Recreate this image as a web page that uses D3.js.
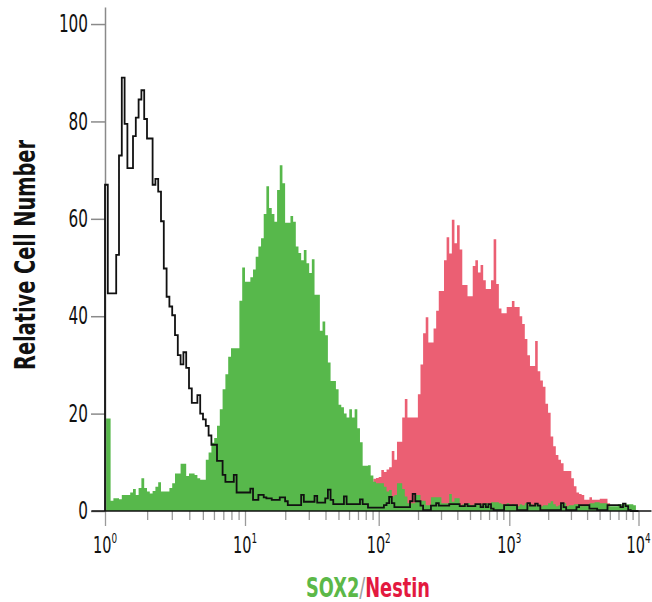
<!DOCTYPE html>
<html>
<head>
<meta charset="utf-8">
<script src="https://cdn.jsdelivr.net/npm/d3@7"></script>
<style>
  body { margin: 0; background: #fff; }
  svg { display: block; }
</style>
</head>
<body>
<svg id="chart" width="652" height="602"></svg>
<script>
'use strict';

// histogram channels: 200 bins, 0.02 decade each, from 10^0 to 10^4
const binStep = 0.02;

// isotype control (black outline)
const control = [
  67, 44.7, 44.7, 44.7, 52.6, 73, 89, 79.5, 70.4, 70.4,
  77, 80.8, 84.5, 86.4, 80.5, 76.5, 76.5, 67, 68.2, 65.6,
  59.5, 49.8, 44, 42, 40.2, 36.1, 32, 30.1, 32.6, 29.4,
  25.2, 22.2, 22.2, 23.8, 20, 18.8, 17.5, 15.5, 13.6, 13.6,
  10.3, 10.3, 7.4, 6, 6, 6, 7.4, 3.8, 3.8, 3.8,
  3.8, 3.8, 4.6, 2.3, 2.3, 3.3, 3.3, 2.8, 2.6, 2.6,
  2.3, 2.3, 2.3, 2.8, 2.8, 2.0, 1.2, 1.2, 1.2, 1.2,
  1.2, 3.3, 1.9, 1.9, 1.9, 1.9, 3.1, 1.7, 1.7, 1.7,
  2.6, 4.4, 2.3, 1.4, 1.4, 1.4, 1.4, 3.0, 1.4, 1.4,
  1.4, 1.4, 1.4, 2.4, 1.4, 1.4, 0.7, 0.7, 0.7, 0.7,
  0.7, 0.7, 1.2, 1.6, 2.9, 1.6, 0.8, 0.8, 0.8, 0.8,
  0.8, 0.8, 2.0, 3.5, 2.0, 2.0, 1.1, 0.2, 0.2, 0.2,
  1.1, 1.1, 1.6, 1.1, 1.1, 1.1, 1.1, 1.4, 1.4, 1.4,
  1.4, 1.0, 1.0, 1.4, 1.0, 1.0, 1.0, 1.4, 1.4, 0.8,
  1.4, 0.8, 1.4, 0.5, 0.2, 0.2, 0.2, 0.2, 1.2, 1.2,
  1.2, 1.2, 1.2, 0.2, 0.2, 0.2, 0.2, 1.6, 1.1, 1.1,
  1.5, 1.1, 0.2, 0.2, 0.2, 0.2, 0.2, 0.2, 0.2, 0.2,
  1.6, 0.8, 0.2, 0.2, 0.2, 0.2, 0.8, 1.2, 1.2, 1.2,
  1.2, 0.5, 0.5, 0.5, 0.2, 0.2, 0.2, 0.2, 1.2, 1.2,
  1.2, 1.2, 1.2, 0.8, 1.5, 1.0, 0.2, 0, 0, 0
];

// SOX2 (green fill)
const sox2 = [
  19, 19, 2.1, 2.6, 2.6, 2.4, 3.3, 3.3, 3.3, 3.8,
  4.5, 3.3, 4.7, 6.7, 4.7, 4.0, 3.6, 4.1, 5.0, 5.9,
  4.0, 4.0, 4.0, 4.7, 5.7, 7.7, 7.7, 9.7, 9.7, 7.2,
  7.7, 7.7, 7.4, 6.7, 6.4, 6.4, 10.5, 12, 14, 15,
  17.5, 20.9, 25, 28.1, 31.7, 33.4, 33.4, 33.4, 43.2, 50,
  47.1, 47.1, 48, 49.6, 52.2, 54.3, 56, 61, 66.7, 62.2,
  61, 59.4, 65.9, 71, 67.3, 59.2, 59.2, 60.6, 59.4, 54.3,
  53, 51.5, 53.6, 50.9, 48.9, 51.7, 44.4, 44.4, 37, 38.9,
  36.1, 30.5, 26.7, 26.7, 25, 21.8, 21.3, 20, 19.2, 20.9,
  19.2, 20.9, 17, 14.1, 9.3, 9.3, 9.4, 7.3, 6, 5.7,
  5.7, 5.7, 5, 4, 4.3, 3, 3.3, 5.7, 5.7, 4.5,
  3, 1.6, 1.6, 1.6, 3.3, 3.3, 2.1, 2.1, 1.2, 1.2,
  2.8, 2.8, 2.8, 2.8, 1.6, 1.6, 1.6, 3.5, 1.9, 2.6,
  2.6, 1.2, 1.4, 1.2, 1.6, 1.2, 1.3, 1.5, 1.2, 1.4,
  1.6, 1.6, 1.4, 1.8, 1.8, 1.8, 1.6, 1.4, 1.4, 1.6,
  1.2, 1.4, 1.2, 1.0, 1.4, 1.2, 1.6, 1.2, 1.4, 1.0,
  1.2, 1.4, 1.0, 1.2, 1.2, 1.6, 2.0, 1.4, 1.0, 1.2,
  1.6, 1.6, 1.0, 1.2, 1.2, 1.4, 1.4, 1.2, 1.0, 1.2,
  1.2, 1.6, 1.6, 1.8, 1.8, 1.6, 1.6, 1.6, 1.0, 1.0,
  1.0, 1.0, 1.4, 1.4, 1.4, 1.4, 1.4, 1.4, 1.2, 0
];

// Nestin (red fill)
const nestin = [
  0, 0, 0, 0, 0, 0, 0, 0, 0, 0,
  0, 0, 0, 0, 0, 0, 0, 0, 0, 0,
  0, 0, 0, 0, 0, 0, 0, 0, 0, 0,
  0, 0, 0, 0, 0, 0, 0, 0, 0, 0,
  0, 0, 0, 0, 0, 0, 0, 0, 0, 0,
  0, 0, 0, 0, 0, 0, 0, 0, 0, 0,
  0, 0, 0, 0, 0, 0, 0, 0, 0, 0,
  0, 0, 0, 0, 0, 0, 0, 0, 0, 0,
  0, 0, 0, 0, 0, 0, 0, 0, 0, 0,
  0.5, 1, 1.5, 2, 2.5, 3, 4, 5, 6.6, 6.8,
  7, 8.4, 8, 8.5, 9, 12.3, 10.5, 14.2, 14.2, 19.2,
  23, 19.2, 19.2, 19.2, 19.2, 24, 30.1, 36.5, 39.8, 34.6,
  34.6, 37.5, 41.1, 45.2, 45.2, 51.5, 56.2, 52.9, 59.8, 55,
  58.7, 53.7, 46.4, 46.4, 44.1, 44.1, 50.3, 51.5, 49, 50.5,
  47.4, 45.6, 45.6, 47.4, 55.8, 46.6, 41.6, 40.6, 40.6, 41.9,
  41.9, 43.1, 41.9, 41.9, 40, 38.4, 35.3, 32, 29.8, 29.8,
  34.9, 28.7, 26.8, 25.5, 22, 20.2, 15.3, 13.3, 11.5, 10.5,
  9.8, 8.2, 8.2, 8.2, 6.7, 5.1, 3.8, 3.5, 3.3, 2.3,
  2.3, 2.8, 2.3, 2.3, 2.3, 2.5, 2.5, 2.5, 1.6, 0.5,
  0, 0, 0, 0, 0, 0, 0, 0, 0, 0
];

const yTicks = [0, 20, 40, 60, 80, 100];
const xDecades = [1, 10, 100, 1000, 10000];
const xExponents = ['0', '1', '2', '3', '4'];
const xMinor = [2, 3, 4, 5, 6, 7, 8, 9, 20, 30, 40, 50, 60, 70, 80, 90,
  200, 300, 400, 500, 600, 700, 800, 900, 2000, 3000, 4000, 5000, 6000, 7000, 8000, 9000];

const COLOR_SOX2 = '#57b84b';
const COLOR_NESTIN = '#eb5f73';
const FONT = "'Liberation Sans Narrow','Arial Narrow','DejaVu Sans Condensed',sans-serif";
// the original type is a tight condensed face, so texts get squeezed to its widths
const DIGIT_W = 9.7;

const svg = d3.select('#chart');

// decades are not quite evenly spaced on the original axis
const x = d3.scaleLog()
  .domain(xDecades)
  .range([105, 245, 378.7, 509.3, 638.5]);

const y = d3.scaleLinear()
  .domain([0, 103.5])
  .range([511, 7]);

const edges = d3.range(control.length + 1).map(i => Math.pow(10, i * binStep));

const stepPoints = (vals)=>{
  const pts = [[edges[0], 0]];
  vals.forEach((v, i)=>{ pts.push([edges[i], v]); });
  pts.push([edges[vals.length], 0]);
  return pts;
};

const area = d3.area()
  .x(d => x(d[0]))
  .y0(y(0))
  .y1(d => y(d[1]))
  .curve(d3.curveStepAfter);

const line = d3.line()
  .x(d => x(d[0]))
  .y(d => y(d[1]))
  .curve(d3.curveStepAfter);

// filled histograms, green sits over red
svg.append('path')
  .attr('d', area(stepPoints(nestin)))
  .attr('fill', COLOR_NESTIN);

svg.append('path')
  .attr('d', area(stepPoints(sox2)))
  .attr('fill', COLOR_SOX2);

// y axis
const yAxis = svg.append('g')
  .attr('transform', `translate(${x(1)},0)`)
  .call(d3.axisLeft(y).tickValues(yTicks).tickSize(14).tickSizeOuter(0).tickPadding(3));

yAxis.select('.domain').attr('stroke', '#8a8a8a').attr('stroke-width', 1.5);
yAxis.selectAll('.tick line').attr('stroke', '#8a8a8a').attr('stroke-width', 1.5);
yAxis.selectAll('.tick text')
  .attr('fill', '#111')
  .attr('textLength', d => String(d).length * DIGIT_W)
  .attr('lengthAdjust', 'spacingAndGlyphs')
  .style('font-family', FONT)
  .style('font-size', '24px');

// x axis: minor and major ticks hang below the base line
const xMinorAxis = svg.append('g')
  .attr('transform', `translate(0,${y(0)})`)
  .call(d3.axisBottom(x).tickValues(xMinor).tickSize(9).tickFormat(''));
xMinorAxis.select('.domain').remove();
xMinorAxis.selectAll('.tick line').attr('stroke', '#9a9a9a').attr('stroke-width', 1.3);

const xMajorAxis = svg.append('g')
  .attr('transform', `translate(0,${y(0)})`)
  .call(d3.axisBottom(x).tickValues(xDecades).tickSize(15).tickFormat(''));
xMajorAxis.select('.domain').remove();
xMajorAxis.selectAll('.tick line').attr('stroke', '#9a9a9a').attr('stroke-width', 1.3);

svg.append('line')
  .attr('x1', x(0.8))
  .attr('x2', x(12600))
  .attr('y1', y(0))
  .attr('y2', y(0))
  .attr('stroke', '#111')
  .attr('stroke-width', 1.5);

const xLabel = svg.append('g')
  .selectAll('text')
  .data(xDecades)
  .join('text')
  .attr('x', d => x(d))
  .attr('y', 553)
  .attr('text-anchor', 'middle')
  .attr('fill', '#111')
  .attr('textLength', 24)
  .attr('lengthAdjust', 'spacingAndGlyphs')
  .style('font-family', FONT)
  .style('font-size', '23px');

xLabel.append('tspan').text('10');
xLabel.append('tspan')
  .attr('dy', -10)
  .style('font-size', '14px')
  .text((d, i) => xExponents[i]);

// control outline on top
svg.append('path')
  .attr('d', line(stepPoints(control)))
  .attr('fill', 'none')
  .attr('stroke', '#111')
  .attr('stroke-width', 1.8)
  .attr('stroke-linejoin', 'miter');

// titles
svg.append('text')
  .attr('transform', 'translate(35,255) rotate(-90)')
  .attr('text-anchor', 'middle')
  .attr('fill', '#111')
  .attr('textLength', 230)
  .attr('lengthAdjust', 'spacingAndGlyphs')
  .style('font-family', FONT)
  .style('font-weight', 'bold')
  .style('font-size', '28px')
  .text('Relative Cell Number');

const legend = svg.append('text')
  .attr('x', 368)
  .attr('y', 597)
  .attr('text-anchor', 'middle')
  .attr('textLength', 124)
  .attr('lengthAdjust', 'spacingAndGlyphs')
  .style('font-family', FONT)
  .style('font-weight', 'bold')
  .style('font-size', '27px');

legend.append('tspan').attr('fill', '#5cb848').text('SOX2');
legend.append('tspan').attr('fill', '#a0a0a0').style('font-weight', 'normal').text('/');
legend.append('tspan').attr('fill', '#e3193f').text('Nestin');
</script>
</body>
</html>
